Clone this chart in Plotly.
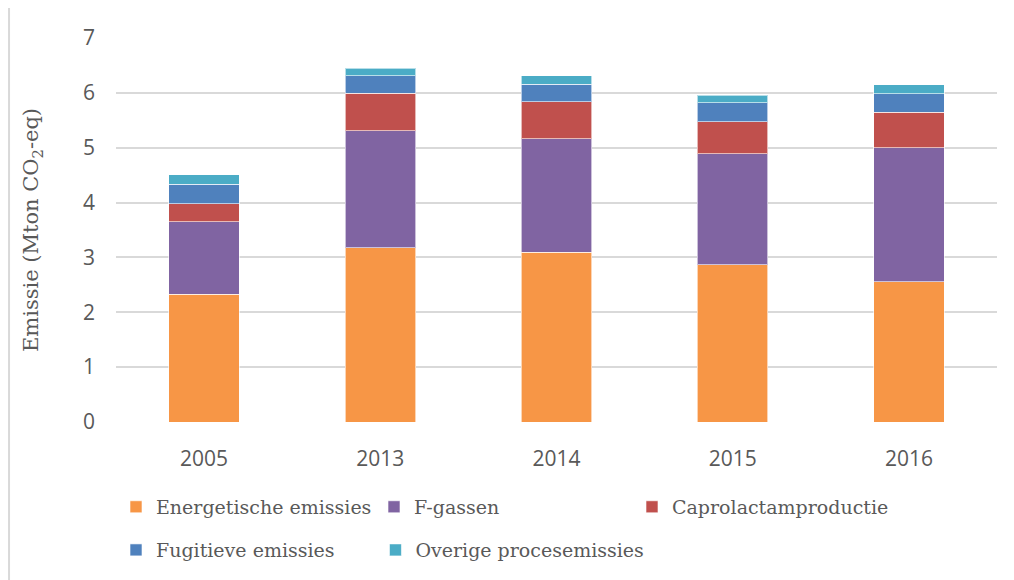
import plotly.graph_objects as go

years = ["2005", "2013", "2014", "2015", "2016"]
energetische = [2.33, 3.18, 3.09, 2.87, 2.56]
f_gassen = [1.32, 2.13, 2.07, 2.02, 2.44]
caprolactam = [0.33, 0.68, 0.68, 0.58, 0.65]
fugitieve = [0.35, 0.32, 0.32, 0.35, 0.33]
overige = [0.18, 0.14, 0.15, 0.14, 0.17]

series = [
    ("Energetische emissies", energetische, "#F79646", "legend"),
    ("F-gassen", f_gassen, "#8064A2", "legend"),
    ("Caprolactamproductie", caprolactam, "#C0504D", "legend"),
    ("Fugitieve emissies", fugitieve, "#4F81BD", "legend2"),
    ("Overige procesemissies", overige, "#4BACC6", "legend3"),
]

serif = "DejaVu Serif, serif"
sans = "Open Sans, sans-serif"
text_color = "#595959"

fig = go.Figure()
for name, vals, color, lg in series:
    fig.add_trace(go.Bar(
        x=years, y=vals, name=name, legend=lg,
        marker=dict(color=color, line=dict(color="rgba(255,255,255,0.6)", width=1)),
    ))

legend_common = dict(orientation="h", xanchor="left", yanchor="middle",
                     font=dict(size=19, family=serif, color=text_color),
                     traceorder="normal", itemclick=False, bgcolor="rgba(0,0,0,0)")

fig.update_layout(
    barmode="stack",
    bargap=0.6,
    width=1006, height=572,
    margin=dict(l=108, r=17, t=30, b=157),
    plot_bgcolor="white", paper_bgcolor="white",
    font=dict(family=serif, color=text_color, size=16),
    xaxis=dict(showgrid=False, showline=False, ticks="", automargin=False,
               tickfont=dict(size=21, family=sans, color=text_color),
               ticklabelstandoff=22),
    yaxis=dict(range=[0, 7], dtick=1, gridcolor="#D9D9D9", gridwidth=1.5, zeroline=False,
               showline=False, automargin=False,
               tickfont=dict(size=21, family=sans, color=text_color),
               ticklabelstandoff=20,
               title=dict(text="Emissie (Mton CO<sub>2</sub>-eq)",
                          font=dict(size=21, family=serif, color=text_color), standoff=38)),
    legend=dict(x=0.0, y=-0.218, entrywidth=213, entrywidthmode="pixels", **legend_common),
    legend2=dict(x=0.0, y=-0.330, **legend_common),
    legend3=dict(x=0.2945, y=-0.330, **legend_common),
    showlegend=True,
)

fig.add_shape(type="line", xref="paper", yref="paper", x0=-0.1214, x1=-0.1214, y0=-0.5, y1=1.2,
              line=dict(color="#D9D9D9", width=2))

fig.write_html("out.html")
